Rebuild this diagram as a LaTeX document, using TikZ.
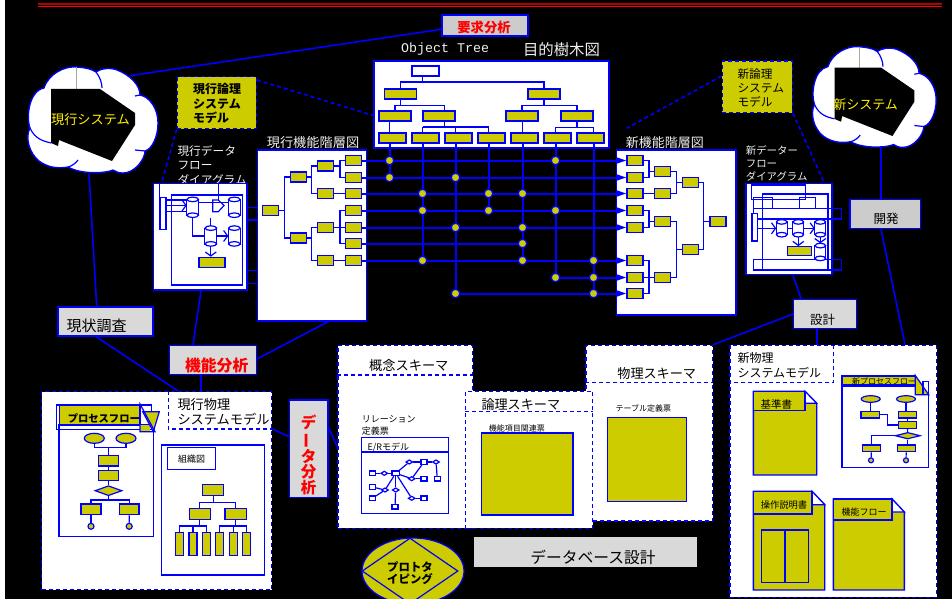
\documentclass[tikz,border=0pt]{standalone}
\usepackage{fontspec}
\setmainfont{Noto Sans CJK JP}
\setmonofont{Liberation Mono}
\usetikzlibrary{arrows.meta,shapes.geometric}
\definecolor{boxyel}{HTML}{CCCC00}
\definecolor{panel}{HTML}{D9D9D9}
\definecolor{panelb}{HTML}{CCCCCC}
\definecolor{paper}{HTML}{F0F0F0}
\tikzset{
	area/.style args={#1/#2/#3/#4}{at={({(#1+#3)/2},{(#2+#4)/2})},minimum width={#3-#1},minimum height={#4-#2}},
	lk/.style={blue,line width=1.2},
	gridlk/.style={blue,line width=2},
	linklk/.style={blue,line width=1.6},
	dashlk/.style={blue,line width=1.2,dash pattern=on 4pt off 3pt},
	chev/.style={lk,-{Straight Barb[length=4pt,width=11pt]}},
	rowlk/.style={gridlk,-{Triangle[length=10pt,width=6pt]}},
	frm/.style={draw=blue,line width=1.2,inner sep=0},
	wbox/.style={frm,fill=white,line width=1.4},
	yel/.style={frm,fill=boxyel},
	ybig/.style={yel,line width=1.4},
	gbox/.style={frm,fill=panel,line width=1.4},
	dbox/.style={draw=blue,line width=1.4,dash pattern=on 4pt off 3pt,fill=white,inner sep=0},
	leaf/.style={yel,minimum width=16,minimum height=10},
	otbox/.style={yel,minimum width=32,minimum height=10},
	otleaf/.style={yel,minimum width=27,minimum height=10},
	dotnode/.style={yel,circle,minimum size=8.5},
	yell/.style={yel,ellipse,minimum width=#1,minimum height=#1/2},
	ydia/.style={yel,diamond,minimum width=#1,minimum height=10},
	ypt/.style={yel,circle,minimum size=#1},
	ersq/.style={frm,fill=white,minimum width=6,minimum height=4.7},
	erdi/.style={frm,fill=white,diamond,minimum width=7,minimum height=4.5},
	tx/.style={font=\fontsize{#1}{#1}\selectfont,inner sep=0},
	txb/.style={font=\fontsize{#1}{#1}\selectfont\bfseries,inner sep=0},
	txl/.style args={#1/#2}{font=\fontsize{#1}{#2}\selectfont,inner sep=0,anchor=west,align=left},
	cloudpic/.pic={
		\draw[lk,fill=white,line width=1.3] (17,21) .. controls (22,6) and (38,0) .. (46,0) .. controls (56,0) and (65,2) .. (69,5)
			.. controls (73,2) and (82,0) .. (90,3) .. controls (103,8) and (113,18) .. (113,28)
			.. controls (123,30) and (131,42) .. (131,56) .. controls (131,70) and (125,82) .. (118,84)
			.. controls (118,92) and (108,106) .. (96,106) .. controls (92,106) and (89,105) .. (86,103)
			.. controls (80,106) and (55,108) .. (41,100) .. controls (30,102) and (20,100) .. (12,94)
			.. controls (2,86) and (-2,70) .. (3,61) .. controls (-1,50) and (2,24) .. (17,21) -- cycle;
		\draw[lk] (69,5) .. controls (73,10) and (75,16) .. (75,21);
		\draw[lk] (3,61) .. controls (8,72) and (16,74) .. (24,76);
		\draw[lk] (41,100) .. controls (45,99) and (49,96) .. (51,93);
		\draw[lk] (113,28) -- (108,29) (108,83) -- (118,84);
		\draw[gray!70,line width=.5] (49.7,0) -- (49.7,22);
		\fill[black] (24,22) -- (73,22) -- (108,46) -- (108,58) -- (85,94) -- (32,73) -- (31,79) -- (24,76) -- cycle;
	},
}
\newcommand{\docsheet}[8]{
	\draw[ybig] (#1,#2) -- (#5,#2) -- (#3,#6) -- (#3,#4) -- (#1,#4) -- cycle;
	\draw[lk,fill=white] (#5,#2) -- (#3,#6) -- (#5,#6) -- cycle;
	\node[ybig,area=#1/#2/#5/#7] (#8) {};
}
\newcommand{\dbcan}[5]{
	\node[inner sep=0,minimum width=#4,minimum height=#5] (#1) at (#2,#3) {};
	\draw[lk,fill=white] ([yshift=-2.3pt]#1.north west) rectangle ([yshift=2.3pt]#1.south east);
	\draw[lk,fill=white] ([yshift=2.3pt]#1.south) ellipse ({#4/2} and 2.3);
	\draw[lk,fill=white] ([yshift=-2.3pt]#1.north) ellipse ({#4/2} and 2.3);
}
\begin{document}
\begin{tikzpicture}[x=1pt,y=-1pt]
	\clip (0,0) rectangle (952,599);
	\fill[white] (0,0) rectangle (952,599);
	\fill[black] (5,0) rectangle (952,599);
	\fill[red!70!black] (38,3) rectangle (942,4.6);
	\fill[red] (38,5.7) rectangle (942,7);

	% clouds
	\pic at (27,67) {cloudpic};
	\pic[scale=.95] at (811.7,46.7) {cloudpic};
	\node[tx=13.2,text=yellow] (oldsys) at (90.5,120) {現行システム};
	\node[tx=13,text=yellow] (newsys) at (865.6,104.3) {新システム};
	\coordinate (oldsysne) at (130,75.7);
	\coordinate (oldsyss) at (89,174);
	\coordinate (newsyss) at (881,146);

	% object tree
	\node[gbox,fill=panelb,area=442/15/528/36] (reqbox) {};
	\node[txb=13.3,text=red] (reqlabel) at (484,27.7) {要求分析};
	\node[text=paper,anchor=west,inner sep=0,font=\fontsize{13.3}{13.3}\selectfont\ttfamily] (objtitle) at (401,49.5) {Object Tree};
	\node[tx=15.4,text=paper] (objtitlejp) at (561.5,49.5) {目的樹木図};
	\node[wbox,area=374/61/609/148] (objbox) {};
	\node[frm,fill=white,area=412/66/439/76] (otroot) {};
	\foreach \x/\n in {400.5/a,544/b} \node[otbox] (ot1\n) at (\x,94) {};
	\foreach \x/\n in {395/a,439/b,522/c,577/d} \node[otbox] (ot2\n) at (\x,116) {};
	\foreach \x [count=\i] in {392.5,425.5,458.5,491.5,524.5,557.5,590.5} \node[otleaf] (tl\i) at (\x,138) {};
	\foreach \x [count=\i] in {389.5,422.5,455.5,488.5,522.5,555.5,593.5} \coordinate (c\i) at (\x,0);
	\foreach \y [count=\i] in {160.5,177.5,193.5,210.5,227.5,243.5,260.5,277.5,293.5} \coordinate (r\i) at (0,\y);
	\coordinate (otjoin) at (444.5,127);
	\draw[lk] (c2 |- otroot.south) -- (c2 |- 0,82) -| (ot1a.north);
	\draw[lk] (c2 |- 0,82) -| (ot1b.north);
	\draw[lk] (ot1a.south) -- ++(0,6) -| (ot2a.north);
	\draw[lk] (ot1a.south) -- ++(0,6) -| (otjoin |- ot2b.north);
	\draw[lk] (ot1b.south) -- ++(0,6) -| (ot2c.north);
	\draw[lk] (ot1b.south) -- ++(0,6) -| (ot2d.north);
	\draw[lk] (ot2a.south -| c1) -- (tl1.north -| c1);
	\draw[lk] (ot2b.south -| otjoin) -- (otjoin);
	\draw[lk] (c2 |- otjoin) -- (c4 |- otjoin);
	\foreach \c in {2,3,4} \draw[lk] (c\c |- otjoin) -- (tl\c.north -| c\c);
	\draw[lk] (ot2c.south -| c5) -- (tl5.north -| c5);
	\draw[lk] (ot2d.south) -- ++(0,6) -| (tl6.north -| c6);
	\draw[lk] (ot2d.south) -- ++(0,6) -| (tl7.north -| c7);

	% function hierarchies
	\node[tx=13.2,text=paper] (oldfunctitle) at (313,142.7) {現行機能階層図};
	\node[tx=13,text=paper] (newfunctitle) at (664.8,142.7) {新機能階層図};
	\node[wbox,area=257.7/150/366.7/321] (oldfunc) {};
	\node[wbox,area=616.7/150/736/315] (newfunc) {};
	\foreach \i in {1,...,7} \node[leaf] (fl\i) at (353.7,0 |- r\i) {};
	\foreach \y [count=\i] in {166,193.5,227.5,260.5} \node[leaf] (fc\i) at (325.8,\y) {};
	\foreach \y [count=\i] in {177,238} \node[leaf] (fb\i) at (298.5,\y) {};
	\node[leaf] (froot) at (270.5,210.5) {};
	\foreach \a/\b/\c in {1/2/1,4/6/3} {
		\draw[lk] (fl\a.west) -- (340,0 |- fl\a) |- (fl\b.west);
		\draw[lk] (fc\c.east) -- (340,0 |- fc\c);
	}
	\draw[lk] (fl5.west) -- (fc3.east);
	\draw[lk] (fl3.west) -- (fc2.east);
	\draw[lk] (fl7.west) -- (fc4.east);
	\foreach \a/\b/\c in {1/2/1,3/4/2} {
		\draw[lk] (fc\a.west) -- (311.7,0 |- fc\a) |- (fc\b.west);
		\draw[lk] (fb\c.east) -- (311.7,0 |- fb\c);
	}
	\draw[lk] (fb1.west) -- (284.3,0 |- fb1) |- (fb2.west);
	\draw[lk] (froot.east) -- (284.3,0 |- froot);

	\foreach \i in {1,2,3,4,5,7,8,9} \node[leaf] (nl\i) at (635,0 |- r\i) {};
	\foreach \y [count=\i] in {171.3,193.5,221.3,277.5} \node[leaf] (nc\i) at (662.8,\y) {};
	\foreach \y [count=\i] in {182.7,249.3} \node[leaf] (nb\i) at (690.5,\y) {};
	\node[leaf] (nroot) at (718,221.3) {};
	\foreach \a/\b/\c in {1/2/1,4/5/3,7/9/4} {
		\draw[lk] (nl\a.east) -- (649,0 |- nl\a) |- (nl\b.east);
		\draw[lk] (nc\c.west) -- (649,0 |- nc\c);
	}
	\draw[lk] (nl3.east) -- (nc2.west);
	\draw[lk] (nl8.east) -- (nc4.west);
	\foreach \a/\b/\c in {1/2/1,3/4/2} {
		\draw[lk] (nc\a.east) -- (676.3,0 |- nc\a) |- (nc\b.east);
		\draw[lk] (nb\c.west) -- (676.3,0 |- nb\c);
	}
	\draw[lk] (nb1.east) -- (703.7,0 |- nb1) |- (nb2.east);
	\draw[lk] (nroot.west) -- (703.7,0 |- nroot);

	% traceability grid
	\foreach \i in {1,2,3,4,5,7} \draw[rowlk] (fl\i) -- (nl\i);
	\draw[gridlk] (fl6) -- (c5 |- r6);
	\draw[rowlk] (c6 |- r8) -- (nl8);
	\draw[rowlk] (c3 |- r9) -- (nl9);
	\foreach \c/\r in {1/2,2/7,3/9,4/4,5/7,6/8,7/9} \draw[gridlk] (tl\c.south -| c\c) -- (c\c |- r\r);
	\foreach \c/\r in {1/1,6/1,1/2,3/2,2/3,4/3,5/3,2/4,4/4,6/4,3/5,5/5,5/6,2/7,5/7,7/7,6/8,7/8,3/9,7/9}
		\node[dotnode] (d\c\r) at (c\c |- r\r) {};

	% logic models
	\node[ybig,dash pattern=on 4pt off 3pt,area=177.3/76.7/256.3/128.7] (oldlogic) {};
	\node[txl=12/14.5,font=\fontsize{12}{14.5}\selectfont\bfseries] (oldlogiclabel) at (193,103.5) {現行論理\\システム\\モデル};
	\node[ybig,dash pattern=on 4pt off 3pt,area=722.3/61/792.3/112.7] (newlogic) {};
	\node[txl=11.7/14.4] (newlogiclabel) at (737.3,88) {新論理\\システム\\モデル};
	\coordinate (newlogicend) at (626.7,128.3);

	% data flow diagrams
	\node[txl=11.7/14.6,text=paper] (olddfdtitle) at (177.3,165.3) {現行データ\\フロー\\ダイアグラム};
	\node[wbox,area=153.7/183.7/247/290] (olddfd) {};
	\node[frm,area=171.7/195/242.5/285] (olddfdin) {};
	\node[frm,fill=white,area=160/197.3/166/229.3] (oldbar) {};
	\dbcan{oca}{192.7}{207.3}{11.5}{20}
	\dbcan{ocb}{234.3}{207.3}{11.5}{20}
	\dbcan{occ}{210.8}{236}{11.5}{20}
	\dbcan{ocd}{234.3}{236}{11.5}{20}
	\node[yel,area=199/257.3/225/267.7] (oldyel) {};
	\draw[lk] (oldbar.north west) -- (olddfd.north -| oldbar.north west);
	\foreach \y in {200,211.7} \draw[lk] (oldbar.east |- 0,\y) -- (oca.west |- 0,\y);
	\draw[chev] (oldbar.east |- 0,205.5) -- (oca.west |- 0,205.5);
	\draw[lk] (oca.east |- 0,202.7) -- (ocb.west |- 0,202.7);
	\draw[lk] (218.3,0 |- olddfd.north) -- (218.3,200);
	\draw[lk] (212.7,200) -- (218.3,200) -- (224,205.5) -- (218.3,211.7) -- (212.7,211.7) -- cycle;
	\draw[lk] (occ.north) -- (occ.north |- oca.south);
	\draw[lk] (oca.south) |- (occ.west);
	\draw[chev] (occ.east) -- (ocd.west);
	\draw[chev] (occ.south) -- (oldyel.north -| occ.south);
	\foreach \y in {207.3,220,270.7,283.5} \draw[lk] (olddfd.east |- 0,\y) -- (oldfunc.west |- 0,\y);

	\node[txl=10.4/13,text=paper] (newdfdtitle) at (745.7,163) {新データー\\フロー\\ダイアグラム};
	\node[wbox,area=746/183.7/832/274.7] (newdfd) {};
	\node[frm,area=751.3/185/805.3/199.3] (nfa) {};
	\node[frm,line width=1.3,area=762.7/194/828/270] (nfb) {};
	\node[frm,area=753.7/197.3/772.7/208.3] (nfc) {};
	\node[frm,area=799.7/197.3/815.7/208.3] (nfd) {};
	\node[frm,area=753.7/208.3/841.3/219] (nfe) {};
	\node[frm,area=753.7/259.3/841.3/270] (nff) {};
	\node[frm,fill=white,area=752/213.3/757.3/241] (newbar) {};
	\dbcan{nca}{781.7}{228.3}{10.5}{17}
	\dbcan{ncb}{798.3}{228.3}{10.5}{17}
	\dbcan{ncc}{820.3}{228.3}{10.5}{17}
	\dbcan{ncd}{820.3}{252}{10.5}{17}
	\node[yel,area=787.7/246.7/811.7/255.7] (newyel) {};
	\draw[chev] (newbar.east |- nca) -- (nca.west);
	\draw[lk] (nca.east) -- (ncb.west);
	\draw[chev] (ncb.east) -- (ncc.west);
	\draw[chev] (ncb.south) -- (newyel.north -| ncb.south);
	\draw[chev] (ncc.south) -- (ncd.north);

	% step boxes
	\node[gbox,area=58/307/153/336] (survey) {};
	\node[tx=15] (surveylabel) at (96.7,326) {現状調査};
	\node[gbox,area=169.7/345.3/256.3/374.7] (funcana) {};
	\node[txb=15.8,text=red] (funcanalabel) at (216.7,365.7) {機能分析};
	\node[gbox,area=289.7/400/328/497.7] (dataana) {};
	\node[txb=15.5,text=red,align=center,font=\fontsize{15.5}{15.5}\selectfont\bfseries] (dataanalabel) at (308.5,455) {デ\\\rotatebox[origin=c]{90}{ー}\\タ\\分\\析};
	\node[gbox,fill=panelb,area=850/199.7/920.3/228.7] (devbox) {};
	\node[tx=12.5] (devlabel) at (886,219) {開発};
	\node[gbox,area=793.7/299.3/856.3/328.3] (designbox) {};
	\node[tx=12.5] (designlabel) at (822.7,319.3) {設計};
	\fill[panel] (474,537) rectangle (696.7,566.7);
	\node[tx=15.75] (dblabel) at (593,557) {データベース設計};

	% current physical model
	\node[dbox,area=41.7/391.7/271.7/589.7] (oldphys) {};
	\draw[dashlk] (168.3,0 |- oldphys.north) |- (oldphys.east |- 0,429);
	\node[txl=13.2/15.6] (oldphyslabel) at (177.3,412) {現行物理\\システムモデル};
	\node[frm,area=56.7/405/151.7/429.3] (pfa) {};
	\node[frm,area=59/425/153.7/536.3] (pfbody) {};
	\node[yel,area=59.3/405.7/140/424.3] (pfhead) {};
	\node[txb=10.3] (pftitle) at (103.8,418) {プロセスフロー};
	\fill[boxyel] (140,425) rectangle (150,431.7);
	\draw[lk,fill=boxyel] (142.7,411.7) -- (159.3,411.7) -- (153.3,431.7) -- cycle;
	\draw[lk] (140,404) -- (140,431.7) -- (155,431.7) -- cycle;
	\node[yell=20] (pfe1) at (94.3,438.3) {};
	\node[yell=20] (pfe2) at (126,438.3) {};
	\node[yel,area=98.7/455.7/118.3/466] (pfr1) {};
	\node[yel,area=98.7/470.3/118.3/480.7] (pfr2) {};
	\node[ydia=27] (pfd) at (108.5,490.7) {};
	\node[yel,area=81/504/101/514.7] (pfr3) {};
	\node[yel,area=119.3/504/139/514.7] (pfr4) {};
	\node[ypt=6] (pfc1) at (91,526.3) {};
	\node[ypt=6] (pfc2) at (129.2,526.3) {};
	\draw[lk] (pfe1.south) |- (pfr1.north |- 0,447.7);
	\draw[lk] (pfe2.south) |- (pfr1.north |- 0,447.7) -- (pfr1.north);
	\draw[lk] (pfr1) -- (pfr2);
	\draw[lk] (pfr2) -- (pfd);
	\draw[lk] (pfd.south) -- (pfd.south |- 0,500);
	\draw[lk] (pfr3.north) |- (pfd.south |- 0,500) -| (pfr4.north);
	\draw[lk] (pfr3) -- (pfc1);
	\draw[lk] (pfr4) -- (pfc2);

	\node[frm,fill=white,area=161.7/445/264.3/575] (orgbox) {};
	\node[frm,area=167.3/447.3/215.7/469.3] (orgtag) {};
	\node[tx=9] (orglabel) at (191.5,458.7) {組織図};
	\node[yel,area=202.7/484.3/223.7/495.7] (orgtop) {};
	\node[yel,area=189.3/508.3/210.3/519.7] (orga) {};
	\node[yel,area=225/508.3/246.3/519.7] (orgb) {};
	\foreach \x [count=\i] in {179.7,193,206.3,219.7,233.3,246.7} \node[yel,minimum width=8,minimum height=23.4] (orgl\i) at (\x,544) {};
	\draw[lk] (orgtop.south) -- ++(0,6.3) coordinate (orgsplit);
	\draw[lk] (orga.north) |- (orgsplit) -| (orgb.north);
	\draw[lk] (orga.south) -- ++(0,5.6) coordinate (orgsa);
	\draw[lk] (orgb.south) -- ++(0,5.6) coordinate (orgsb);
	\foreach \i in {1,2,3} \draw[lk] (orgl\i.north) |- (orgsa);
	\foreach \i in {4,5,6} \draw[lk] (orgl\i.north) |- (orgsb);

	% schemas
	\node[dbox,area=586/345.3/712.7/521] (physschema) {};
	\draw[dashlk] (physschema.west |- 0,382.7) -- (physschema.east |- 0,382.7);
	\node[tx=13.1] (physlabel) at (656.7,373.3) {物理スキーマ};
	\node[tx=8] (tablabel) at (643.3,408) {テーブル定義票};
	\node[ybig,area=607.3/417.3/686.3/501.3] (tabbox) {};

	\node[dbox,area=338/345.3/472.7/528.3] (concept) {};
	\draw[dashlk] (concept.west |- 0,375) -- (concept.east |- 0,375);
	\node[tx=13.2] (conceptlabel) at (408.8,365) {概念スキーマ};
	\node[txl=9/12] (rellabel) at (361.7,425.7) {リレーション\\定義票};
	\node[tx=9,anchor=west] (erlabel) at (367.3,447.8) {E/Rモデル};
	\node[frm,area=361.7/437.3/448.3/513.3] (erbox) {};
	\draw[lk] (erbox.west |- 0,452) -- (erbox.east |- 0,452);
	\foreach \n/\x/\y in {s1/372.3/473.3,s3/424/462,s4/424/478.7,s5/437.3/478.7,s6/372.3/487,s7/372.3/498.3,s8/395/506.7,s9/424/498.3}
		\node[ersq] (\n) at (\x,\y) {};
	\node[ersq,minimum width=7.5] (s2) at (395.7,473.3) {};
	\foreach \n/\x/\y in {t1/384.3/473.3,t2/409.3/462,t3/436/462,t4/411.7/478.7,t5/385/490,t6/395.7/490,t7/411.7/498.3}
		\node[erdi] (\n) at (\x,\y) {};
	\foreach \a/\b in {s1/t1,t1/s2,s2/t2,t2/s3,s3/t3,t3/s5,s2/t4,t4/s4,t4/s3,s2/t5,t5/s6,t5/s7,s2/t6,t6/s8,s2/t7,t7/s9}
		\draw[lk] (\a) -- (\b);

	\node[dbox,area=465.7/391.3/592.7/528.3] (logicschema) {};
	\draw[dashlk] (logicschema.west |- 0,411.3) -- (logicschema.east |- 0,411.3);
	\node[tx=13.1] (logiclabel) at (520.8,404.3) {論理スキーマ};
	\node[ybig,area=481.7/433/573/515] (itembox) {};
	\node[tx=8] (itemlabel) at (516.8,428) {機能項目関連票};

	\node[yel,ellipse,minimum width=102,minimum height=66] (proto) at (413,571) {};
	\node[draw=blue,line width=1.2,diamond,inner sep=0,minimum width=96,minimum height=66] (protod) at (410,571) {};
	\node[txb=11.4,align=center,font=\fontsize{11.4}{12.6}\selectfont\bfseries] (protolabel) at (410,573) {プロトタ\\イピング};

	% new physical model
	\node[dbox,area=730/345.3/936.7/597.3] (newphys) {};
	\draw[dashlk] (833.3,0 |- newphys.north) |- (734,382.7);
	\node[txl=12/15] (newphyslabel) at (737.3,364.8) {新物理\\システムモデル};
	\docsheet{753.3}{391.3}{816.7}{475}{805}{403.3}{410.7}{stdsheet}
	\node[tx=10.5] (stdlabel) at (776.3,404.3) {基準書};
	\docsheet{753.3}{491.3}{824.7}{590}{812}{504.7}{514}{opsheet}
	\node[tx=9.3] (oplabel) at (784,505) {操作説明書};
	\node[frm,area=761.7/530/808.3/582.3] (opinner) {};
	\draw[lk] (785,0 |- opinner.north) -- (785,0 |- opinner.south);
	\docsheet{833.3}{499}{904.3}{590}{892}{512}{520}{flowsheet}
	\node[tx=9] (flowlabel) at (864,511.7) {機能フロー};

	\node[frm,fill=white,line width=1.3,area=842/386/928.3/467.3] (npbody) {};
	\node[yel,area=842/376/915.3/384.7] (nphead) {};
	\node[tx=8] (nptitle) at (884,381.3) {新プロセスフロー};
	\fill[white] (915.3,375.5) -- (928.7,375.5) -- (928.7,394.7) -- cycle;
	\draw[lk,fill=boxyel] (915.3,375.5) -- (928.7,394.7) -- (915.3,394.7) -- cycle;
	\draw[lk] (923,381.3) rectangle (928.7,394.7);
	\node[yell=19,minimum height=6.6] (npe1) at (870.7,399) {};
	\node[yell=19,minimum height=6.6] (npe2) at (906,399) {};
	\node[yel,area=861/411.3/879.3/418] (npr1) {};
	\node[yel,area=898.3/411.3/916.7/418] (npr2) {};
	\node[yel,area=898.3/421.7/916.7/428.3] (npr3) {};
	\node[ydia=25,minimum height=6.6] (npd) at (907.7,435.7) {};
	\node[yel,area=862.3/445/880.7/451.7] (npr4) {};
	\node[yel,area=897.3/445/915.3/451.7] (npr5) {};
	\node[ypt=5] (npc1) at (871,460.3) {};
	\node[ypt=5] (npc2) at (906,460.3) {};
	\draw[lk] (npe1) -- (npe1 |- npr1.north);
	\draw[lk] (npe2) -- (npe2 |- npr2.north);
	\draw[lk] (npr2) -- (npr3);
	\draw[lk] (npr3) -- (npd);
	\draw[lk] (npr1.east) -- (887.3,0 |- npr1) |- (npr3.west);
	\draw[lk] (npd.west) -| (npr4.north);
	\draw[lk] (npd) -- (npr5.north -| npd);
	\draw[lk] (npr4) -- (npc1);
	\draw[lk] (npr5) -- (npc2);

	% links between the areas
	\draw[linklk] (oldsysne) -- (reqbox.west |- 0,29.3);
	\draw[linklk] (oldsyss) -- (survey.north -| 96.7,0);
	\draw[linklk] (survey.south -| 96,0) -- (oldphys.north -| 178,0);
	\draw[linklk] (olddfd.south -| 201,0) -- (funcana.north -| 193,0);
	\draw[linklk] (funcana.east |- 0,359) -- (oldfunc.south -| 328,0);
	\draw[linklk] (funcana.south -| 200.7,0) -- (oldphys.north -| 200.7,0);
	\draw[linklk] (oldphys.east |- 0,429) -- (dataana.west |- 0,436.7);
	\draw[linklk] (dataana.east |- 0,428) -- (concept.west |- 0,447);
	\draw[linklk] (newsyss) -- (devbox.north -| newsyss);
	\draw[linklk] (devbox.south -| 881,0) -- (newphys.north -| 905,0);
	\draw[linklk] (newdfd.south -| 793,0) -- (designbox.north -| 801,0);
	\draw[linklk] (designbox.west |- 0,314) -- (physschema.north east);
	\draw[linklk] (designbox.south -| 816.7,0) -- (newphys.north -| 816.7,0);
	\draw[dashlk,line width=1.6] (oldlogic.east |- 0,80) -- (objbox.west |- 0,115.5);
	\draw[dashlk,line width=1.6] (oldlogic.south west) -- (olddfd.north -| 161.5,0);
	\draw[dashlk,line width=1.6] (newlogic.west |- 0,76) -- (newlogicend);
	\draw[dashlk,line width=1.6] (newlogic.south east) -- (newdfd.north -| 824.3,0);
\end{tikzpicture}
\end{document}
